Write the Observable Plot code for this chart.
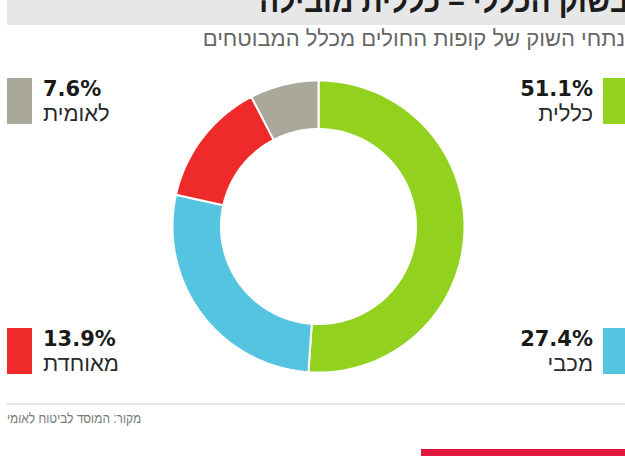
<!DOCTYPE html>
<html lang="he">
<head>
<meta charset="utf-8">
<script src="https://cdn.jsdelivr.net/npm/d3@7"></script>
<script src="https://cdn.jsdelivr.net/npm/@observablehq/plot@0.6"></script>
<style>
  html, body { margin: 0; padding: 0; background: #fff; }
  #page { position: relative; width: 625px; height: 456px; overflow: hidden; background: #fff; font-family: "Liberation Sans", "DejaVu Sans", sans-serif; }
  .abs { position: absolute; white-space: nowrap; }
  #band { left: 7px; top: 0; width: 618px; height: 25px; background: #e7e7e7; }
  #title { right: -4px; top: -15px; font-size: 32px; line-height: 32px; font-weight: bold; color: #1c1c1c; direction: rtl; transform-origin: right center; transform: scaleX(0.92); }
  #subtitle { right: 0px; top: 28px; font-size: 22px; line-height: 22px; color: #666; direction: rtl; transform-origin: right center; transform: scaleX(1.0); }
  #chart { left: 0; top: 71px; }
  .sw { position: absolute; }
  .pct { position: absolute; font-family: "DejaVu Sans", sans-serif; font-weight: bold; font-size: 21px; line-height: 21px; color: #1a1a1a; white-space: nowrap; }
  .lab { position: absolute; font-family: "Liberation Sans", sans-serif; font-size: 22px; line-height: 22px; color: #2a2a2a; direction: rtl; white-space: nowrap; }
  #rule { left: 7px; top: 403px; width: 618px; height: 2px; background: #e4e4e4; }
  #source { left: 7px; top: 411px; font-size: 14px; line-height: 14px; color: #7a7a7a; direction: rtl; transform-origin: left center; transform: scaleX(0.85); }
  #redbar { left: 421px; top: 449px; width: 204px; height: 7px; background: #e2173f; }
</style>
</head>
<body>
<div id="page">
  <div id="band" class="abs"></div>
  <div id="title" class="abs"></div>
  <div id="subtitle" class="abs"></div>
  <div id="chart" class="abs"></div>
  <div id="legend"></div>
  <div id="rule" class="abs"></div>
  <div id="source" class="abs"></div>
  <div id="redbar" class="abs"></div>
</div>
<script>
// ---- data ----
const titleText = "בשוק הכללי – כללית מובילה";
const subtitleText = "נתחי השוק של קופות החולים מכלל המבוטחים";
const sourceText = "מקור: המוסד לביטוח לאומי";
const funds = ["כללית", "מכבי", "מאוחדת", "לאומית"];
const shares = [51.1, 27.4, 13.9, 7.6];
const fundColors = ["#93d11f", "#55c4e1", "#ee2a2a", "#aaa79b"];

document.getElementById("title").textContent = titleText;
document.getElementById("subtitle").textContent = subtitleText;
document.getElementById("source").textContent = sourceText;

// ---- donut geometry (ring polygons in unit coordinates, angle 0 at top, clockwise) ----
const innerRatio = 0.668;
const total = d3.sum(shares);
const ring = [];
let cum = 0;
funds.forEach((name, i) => {
  const a0 = cum / total * 2 * Math.PI;
  cum += shares[i];
  const a1 = cum / total * 2 * Math.PI;
  const n = Math.max(4, Math.ceil(shares[i] * 2));
  const pts = [];
  for (let k = 0; k <= n; k++) {
    const a = a0 + (a1 - a0) * k / n;
    pts.push({name, x: Math.sin(a), y: Math.cos(a)});
  }
  for (let k = n; k >= 0; k--) {
    const a = a0 + (a1 - a0) * k / n;
    pts.push({name, x: innerRatio * Math.sin(a), y: innerRatio * Math.cos(a)});
  }
  pts.push({...pts[0]});
  ring.push(...pts);
});

const chart = Plot.plot({
  width: 625,
  height: 310,
  marginLeft: 172,
  marginRight: 161,
  marginTop: 9,
  marginBottom: 9,
  x: {domain: [-1, 1], axis: null},
  y: {domain: [-1, 1], axis: null},
  color: {domain: funds, range: fundColors},
  style: {background: "transparent", overflow: "visible"},
  marks: [
    Plot.line(ring, {x: "x", y: "y", z: "name", fill: "name", stroke: "white", strokeWidth: 2, curve: "linear", strokeLinejoin: "miter"})
  ]
});
document.getElementById("chart").appendChild(chart);

// ---- legend ----
const color = chart.scale("color");
const legendPlaces = {
  "כללית": {side: "right", top: 78},
  "מכבי": {side: "right", top: 328},
  "מאוחדת": {side: "left", top: 328},
  "לאומית": {side: "left", top: 78}
};
const legend = document.getElementById("legend");
funds.forEach((name, i) => {
  const p = legendPlaces[name];
  const sw = document.createElement("div");
  sw.className = "sw";
  sw.style.top = p.top + "px";
  sw.style.height = "46px";
  sw.style.width = "25px";
  sw.style.background = color.apply(name);
  const pct = document.createElement("div");
  pct.className = "pct";
  pct.textContent = d3.format(".1f")(shares[i]) + "%";
  pct.style.top = (p.top + 1) + "px";
  const lab = document.createElement("div");
  lab.className = "lab";
  lab.textContent = name;
  lab.style.top = (p.top + 25) + "px";
  if (p.side === "left") {
    sw.style.left = "7px";
    pct.style.left = "43px";
    lab.style.left = "43px";
  } else {
    sw.style.left = "603px";
    pct.style.right = "32px";
    lab.style.right = "32px";
  }
  legend.append(sw, pct, lab);
});
</script>
</body>
</html>
